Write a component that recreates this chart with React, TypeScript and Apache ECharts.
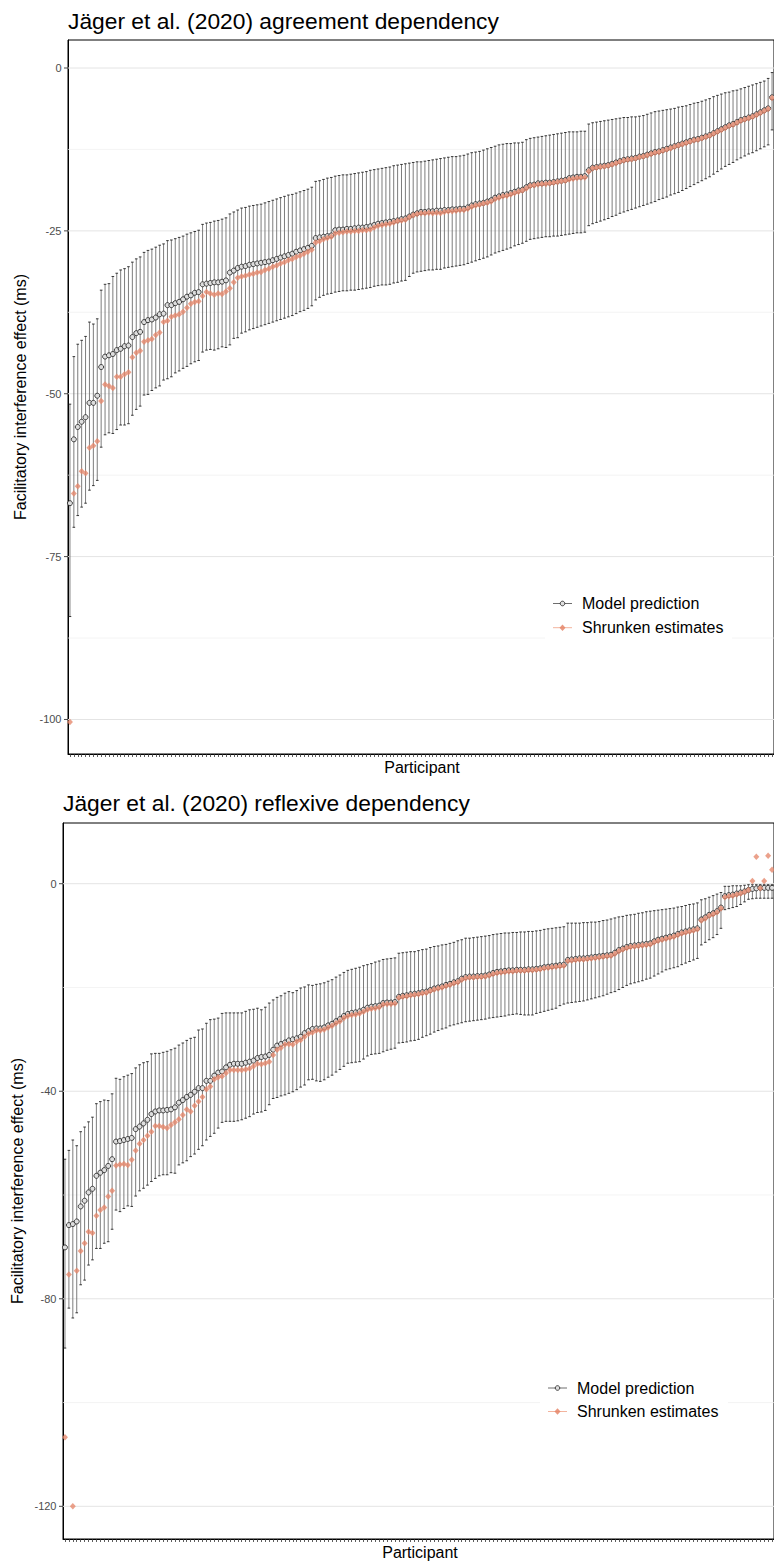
import React, { useEffect, useRef } from "react";
import * as echarts from "echarts";

const participants: string[] = Array.from({ length: 181 }, (_, i) => String(i + 1));

// Agreement dependency
const agrPred = [
  -66.8,-57.0,-55.1,-54.3,-53.6,-51.4,-51.4,-50.3,-45.9,-44.3,
  -44.1,-43.9,-43.3,-43.1,-42.7,-42.6,-41.3,-40.7,-40.5,-39.0,
  -38.7,-38.6,-38.3,-37.8,-37.7,-36.4,-36.4,-36.1,-35.9,-35.5,
  -35.1,-34.9,-34.5,-34.4,-33.2,-33.1,-33.0,-32.9,-32.9,-32.8,
  -32.6,-31.4,-31.1,-30.7,-30.5,-30.4,-30.2,-30.1,-30.0,-29.9,
  -29.8,-29.7,-29.5,-29.3,-29.1,-28.9,-28.7,-28.5,-28.2,-28.0,
  -27.8,-27.6,-27.3,-26.1,-26.0,-25.9,-25.8,-25.7,-24.9,-24.8,
  -24.8,-24.7,-24.7,-24.6,-24.5,-24.5,-24.4,-24.3,-24.1,-23.9,
  -23.8,-23.7,-23.6,-23.5,-23.4,-23.2,-23.1,-22.8,-22.5,-22.3,
  -22.1,-22.1,-22.0,-22.0,-21.9,-21.9,-21.8,-21.8,-21.7,-21.7,
  -21.6,-21.6,-21.4,-21.1,-20.9,-20.8,-20.7,-20.5,-20.3,-19.9,
  -19.7,-19.5,-19.4,-19.2,-19.0,-18.8,-18.7,-18.3,-18.0,-17.9,
  -17.7,-17.7,-17.6,-17.6,-17.5,-17.4,-17.3,-17.2,-16.9,-16.8,
  -16.7,-16.7,-16.6,-15.7,-15.3,-15.2,-15.1,-15.0,-14.9,-14.7,
  -14.5,-14.3,-14.1,-14.0,-13.9,-13.8,-13.6,-13.5,-13.3,-13.1,
  -12.9,-12.8,-12.6,-12.4,-12.2,-12.0,-11.8,-11.6,-11.4,-11.2,
  -11.0,-10.9,-10.7,-10.5,-10.3,-10.0,-9.7,-9.4,-9.1,-8.8,
  -8.6,-8.3,-8.0,-7.8,-7.6,-7.4,-7.1,-6.8,-6.5,-6.2,
  -4.5,
];
const agrShrunk = [
  -100.4,-65.3,-64.2,-61.9,-62.2,-58.3,-58.0,-57.3,-51.1,-48.6,
  -48.8,-49.1,-47.4,-47.4,-47.0,-46.7,-44.4,-43.7,-43.4,-42.0,
  -41.8,-41.6,-41.0,-40.6,-39.0,-38.8,-38.2,-38.0,-37.8,-37.4,
  -36.8,-36.2,-35.9,-35.8,-35.0,-34.4,-34.6,-34.8,-34.6,-34.7,
  -34.3,-33.8,-32.9,-32.2,-32.0,-31.9,-31.7,-31.6,-31.4,-31.3,
  -31.0,-30.8,-30.5,-30.3,-30.0,-29.8,-29.5,-29.3,-29.0,-28.8,
  -28.5,-28.2,-27.9,-26.8,-26.6,-26.3,-26.1,-25.9,-25.4,-25.3,
  -25.2,-25.1,-25.1,-25.0,-25.0,-24.9,-24.9,-24.8,-24.5,-24.2,
  -24.1,-24.0,-23.9,-23.7,-23.5,-23.4,-23.3,-22.9,-22.6,-22.4,
  -22.3,-22.3,-22.2,-22.3,-22.2,-22.3,-22.1,-22.0,-22.0,-21.9,
  -21.8,-21.8,-21.6,-21.3,-21.1,-21.0,-20.8,-20.7,-20.5,-20.1,
  -19.9,-19.7,-19.6,-19.4,-19.2,-19.0,-18.8,-18.5,-18.1,-18.0,
  -17.9,-17.8,-17.8,-17.7,-17.6,-17.5,-17.4,-17.3,-17.1,-17.0,
  -16.9,-16.8,-16.8,-15.9,-15.4,-15.3,-15.2,-15.1,-15.0,-14.8,
  -14.6,-14.4,-14.2,-14.1,-14.0,-13.9,-13.7,-13.6,-13.4,-13.2,
  -13.0,-12.9,-12.7,-12.5,-12.3,-12.1,-11.9,-11.7,-11.5,-11.3,
  -11.1,-11.0,-10.8,-10.6,-10.4,-10.1,-9.8,-9.5,-9.2,-8.9,
  -8.7,-8.4,-8.1,-7.9,-7.7,-7.5,-7.2,-6.9,-6.6,-6.3,
  -4.6,
];
const agrUpper = [
  -51.6,-44.3,-42.4,-41.8,-41.2,-39.0,-39.3,-38.5,-34.1,-33.2,
  -33.1,-32.0,-31.5,-31.0,-30.8,-30.5,-29.8,-29.3,-29.0,-28.3,
  -28.0,-27.8,-27.5,-27.2,-27.0,-26.5,-26.4,-26.2,-26.0,-25.8,
  -25.5,-25.3,-25.1,-24.9,-24.0,-23.8,-23.7,-23.5,-23.4,-23.2,
  -23.0,-22.4,-22.1,-21.8,-21.5,-21.4,-21.2,-21.1,-21.0,-20.9,
  -20.7,-20.5,-20.3,-20.1,-19.9,-19.7,-19.5,-19.4,-19.2,-19.0,
  -18.8,-18.6,-18.3,-17.4,-17.3,-17.1,-16.9,-16.8,-16.6,-16.5,
  -16.4,-16.4,-16.3,-16.2,-16.1,-16.0,-15.9,-15.7,-15.6,-15.5,
  -15.4,-15.3,-15.2,-15.0,-14.9,-14.8,-14.7,-14.6,-14.5,-14.4,
  -14.4,-14.3,-14.2,-14.1,-14.0,-13.9,-13.8,-13.7,-13.6,-13.6,
  -13.5,-13.4,-13.2,-13.0,-12.9,-12.8,-12.6,-12.4,-12.2,-12.0,
  -11.8,-11.7,-11.6,-11.6,-11.5,-11.5,-11.4,-11.0,-10.8,-10.7,
  -10.6,-10.5,-10.4,-10.3,-10.2,-10.1,-10.0,-9.9,-9.8,-9.8,
  -9.8,-9.7,-9.7,-8.6,-8.4,-8.3,-8.2,-8.1,-8.0,-7.9,
  -7.8,-7.7,-7.6,-7.6,-7.5,-7.5,-7.4,-7.3,-7.1,-6.9,
  -6.7,-6.6,-6.5,-6.4,-6.3,-6.2,-6.0,-5.9,-5.8,-5.6,
  -5.4,-5.3,-5.1,-4.9,-4.7,-4.4,-4.2,-4.0,-3.8,-3.7,
  -3.5,-3.4,-3.2,-3.0,-2.8,-2.6,-2.4,-2.2,-2.0,-1.6,
  -0.7,
];
const agrLower = [
  -84.2,-70.5,-68.7,-67.4,-66.8,-64.8,-64.1,-63.3,-58.2,-56.3,
  -56.0,-56.1,-55.5,-54.8,-54.8,-54.6,-53.3,-52.4,-51.9,-50.2,
  -50.1,-49.5,-49.1,-48.8,-47.9,-47.7,-47.4,-46.8,-46.5,-46.1,
  -45.8,-45.4,-45.1,-44.9,-43.6,-43.3,-43.2,-43.3,-43.1,-42.8,
  -42.9,-42.5,-41.5,-41.4,-40.7,-40.5,-40.2,-40.0,-39.8,-39.6,
  -39.4,-39.2,-39.0,-38.8,-38.6,-38.4,-38.2,-38.0,-37.7,-37.4,
  -37.2,-36.9,-36.5,-35.6,-35.2,-34.9,-34.7,-34.6,-34.4,-34.3,
  -34.2,-34.2,-34.1,-34.1,-34.0,-33.9,-33.8,-33.7,-33.5,-33.4,
  -33.3,-33.3,-33.2,-33.0,-32.9,-32.7,-32.6,-32.0,-31.5,-31.3,
  -31.2,-31.1,-31.0,-31.0,-30.9,-30.9,-30.7,-30.6,-30.5,-30.4,
  -30.3,-30.2,-30.0,-29.8,-29.6,-29.4,-29.2,-29.0,-28.7,-28.4,
  -28.2,-28.0,-27.8,-27.6,-27.3,-27.1,-26.9,-26.6,-26.3,-26.2,
  -26.1,-26.0,-25.9,-25.9,-25.8,-25.8,-25.7,-25.6,-25.5,-25.4,
  -25.3,-25.3,-25.2,-24.2,-23.9,-23.7,-23.5,-23.3,-23.1,-22.8,
  -22.6,-22.3,-22.1,-21.9,-21.7,-21.5,-21.3,-21.1,-20.9,-20.7,
  -20.5,-20.2,-20.0,-19.8,-19.5,-19.3,-19.1,-18.8,-18.5,-18.2,
  -17.9,-17.6,-17.3,-17.0,-16.7,-16.3,-15.9,-15.5,-15.1,-14.8,
  -14.5,-14.1,-13.8,-13.5,-13.2,-13.0,-12.7,-12.4,-12.1,-11.8,
  -9.5,
];

// Reflexive dependency
const refPred = [
  -70.1,-65.8,-65.6,-65.1,-62.2,-61.1,-59.5,-58.8,-56.3,-55.7,
  -55.2,-54.4,-53.1,-49.7,-49.6,-49.4,-49.2,-49.0,-47.3,-46.8,
  -46.2,-45.5,-44.4,-43.9,-43.7,-43.7,-43.6,-43.5,-43.1,-42.2,
  -41.7,-41.1,-40.7,-40.1,-39.4,-39.4,-38.0,-38.0,-37.0,-36.4,
  -36.2,-35.4,-34.9,-34.7,-34.7,-34.7,-34.5,-34.3,-34.1,-33.6,
  -33.4,-33.3,-33.0,-32.0,-31.2,-30.9,-30.6,-30.2,-30.0,-29.8,
  -29.5,-28.8,-28.4,-28.0,-27.9,-27.9,-27.7,-27.3,-27.0,-26.5,
  -26.1,-25.5,-25.1,-24.9,-24.8,-24.6,-24.3,-23.9,-23.7,-23.6,
  -23.5,-23.0,-22.9,-22.9,-22.8,-21.8,-21.6,-21.5,-21.3,-21.2,
  -21.1,-20.9,-20.8,-20.5,-20.2,-20.0,-19.8,-19.5,-19.3,-19.0,
  -18.8,-18.3,-18.0,-17.9,-17.9,-17.8,-17.8,-17.7,-17.5,-17.2,
  -17.0,-16.9,-16.8,-16.7,-16.7,-16.6,-16.6,-16.6,-16.5,-16.5,
  -16.4,-16.3,-16.1,-16.0,-15.9,-15.8,-15.7,-15.6,-14.7,-14.6,
  -14.5,-14.4,-14.4,-14.3,-14.2,-14.1,-14.0,-13.9,-13.8,-13.7,
  -13.3,-12.8,-12.5,-12.2,-12.0,-11.9,-11.8,-11.7,-11.6,-11.5,
  -11.1,-10.8,-10.6,-10.4,-10.2,-10.0,-9.7,-9.4,-9.2,-9.0,
  -8.8,-8.6,-6.9,-6.5,-6.0,-5.7,-5.3,-4.6,-2.4,-2.2,
  -2.1,-1.9,-1.7,-1.5,-1.2,-1.0,-0.9,-0.8,-0.8,-0.8,
  -0.8,
];
const refShrunk = [
  -106.7,-75.3,-120.0,-74.6,-70.8,-69.3,-67.1,-67.3,-64.0,-62.9,
  -62.4,-60.3,-59.2,-54.3,-54.1,-54.0,-54.2,-53.2,-51.4,-50.1,
  -49.4,-48.6,-47.8,-46.7,-46.7,-46.9,-47.1,-46.5,-46.0,-45.4,
  -44.6,-43.5,-43.9,-42.8,-42.0,-41.1,-39.6,-39.1,-37.7,-37.3,
  -37.1,-36.5,-35.9,-35.9,-35.9,-35.9,-35.8,-35.6,-35.2,-34.7,
  -34.8,-34.6,-34.3,-33.0,-32.0,-31.6,-31.0,-30.9,-31.0,-30.4,
  -30.1,-29.5,-28.9,-28.7,-28.3,-28.3,-28.1,-27.7,-27.4,-26.9,
  -26.5,-25.9,-25.5,-25.3,-25.2,-25.0,-24.7,-24.3,-24.1,-24.0,
  -23.8,-23.3,-23.2,-23.2,-23.1,-22.0,-21.8,-21.7,-21.5,-21.4,
  -21.3,-21.1,-21.0,-20.7,-20.4,-20.2,-20.0,-19.7,-19.5,-19.2,
  -19.0,-18.5,-18.2,-18.1,-18.1,-18.0,-18.0,-17.9,-17.7,-17.4,
  -17.2,-17.1,-17.0,-16.9,-16.9,-16.8,-16.8,-16.8,-16.7,-16.7,
  -16.6,-16.5,-16.3,-16.2,-16.1,-16.0,-15.9,-15.8,-14.9,-14.8,
  -14.7,-14.6,-14.6,-14.5,-14.4,-14.3,-14.2,-14.1,-14.0,-13.9,
  -13.5,-13.0,-12.7,-12.4,-12.2,-12.1,-12.0,-11.9,-11.8,-11.7,
  -11.3,-11.0,-10.8,-10.6,-10.4,-10.2,-9.9,-9.6,-9.4,-9.2,
  -9.0,-8.8,-7.1,-6.7,-6.2,-5.9,-5.5,-4.8,-2.6,-2.4,
  -2.3,-2.1,-1.9,-1.6,-1.2,0.5,5.2,-0.9,0.5,5.4,
  2.7,
];
const refUpper = [
  -53.1,-51.4,-49.4,-50.5,-47.8,-46.9,-45.9,-45.0,-42.4,-42.0,
  -41.7,-41.8,-40.5,-37.5,-37.7,-37.2,-36.9,-36.6,-35.5,-34.9,
  -34.5,-34.3,-32.8,-32.7,-32.7,-32.5,-32.3,-32.0,-31.7,-31.1,
  -30.7,-30.2,-29.8,-29.6,-28.2,-28.0,-26.9,-26.2,-26.1,-25.9,
  -25.0,-24.9,-24.9,-24.9,-24.9,-24.9,-24.6,-24.3,-24.2,-24.0,
  -24.3,-23.8,-23.0,-22.4,-21.9,-21.6,-21.1,-20.8,-21.0,-20.6,
  -20.1,-19.9,-19.5,-19.6,-19.4,-19.3,-19.1,-18.8,-18.5,-18.0,
  -17.6,-17.1,-16.7,-16.5,-16.3,-16.1,-15.8,-15.6,-15.4,-15.1,
  -14.9,-14.6,-14.5,-14.4,-14.3,-13.4,-13.3,-13.2,-13.1,-13.1,
  -12.9,-12.7,-12.6,-12.3,-12.1,-12.0,-11.8,-11.7,-11.5,-11.3,
  -11.0,-10.8,-10.5,-10.5,-10.4,-10.3,-10.2,-10.1,-10.0,-9.8,
  -9.7,-9.6,-9.5,-9.5,-9.4,-9.4,-9.3,-9.3,-9.2,-9.2,
  -9.1,-9.0,-8.8,-8.7,-8.6,-8.5,-8.4,-8.3,-7.6,-7.6,
  -7.6,-7.6,-7.5,-7.5,-7.4,-7.4,-7.3,-7.1,-7.0,-6.8,
  -6.6,-6.4,-6.3,-6.1,-6.0,-5.9,-5.7,-5.6,-5.4,-5.3,
  -5.2,-5.1,-5.0,-4.9,-4.8,-4.7,-4.5,-4.4,-4.2,-4.0,
  -3.9,-3.7,-3.1,-2.9,-2.6,-2.3,-2.0,-1.7,-0.5,-0.5,
  -0.4,-0.4,-0.4,-0.3,-0.2,-0.2,-0.2,-0.2,-0.2,-0.2,
  -0.2,
];
const refLower = [
  -89.5,-81.8,-83.7,-82.7,-77.3,-76.4,-73.5,-72.5,-70.3,-70.3,
  -69.3,-69.0,-66.6,-62.9,-63.2,-62.6,-62.1,-62.2,-60.2,-59.2,
  -58.7,-58.1,-57.4,-56.8,-56.3,-56.1,-56.1,-55.7,-55.8,-54.2,
  -53.8,-53.4,-52.6,-52.1,-51.2,-50.5,-49.4,-48.7,-48.1,-47.1,
  -46.0,-45.8,-45.8,-45.8,-45.7,-45.5,-45.2,-44.9,-44.4,-44.1,
  -44.0,-43.7,-42.6,-41.4,-41.2,-40.9,-40.7,-40.4,-40.1,-39.7,
  -39.2,-38.8,-37.8,-37.7,-38.0,-38.1,-37.8,-37.3,-36.9,-36.3,
  -35.8,-35.2,-34.6,-34.5,-34.4,-34.3,-33.8,-33.2,-32.9,-32.8,
  -32.7,-32.4,-32.1,-31.9,-31.7,-30.7,-30.6,-30.5,-30.3,-30.2,
  -30.0,-29.6,-29.3,-29.0,-28.6,-28.3,-28.0,-27.8,-27.4,-27.2,
  -27.0,-26.8,-26.6,-26.5,-26.4,-26.3,-26.2,-26.1,-25.9,-25.8,
  -25.7,-25.6,-25.5,-25.3,-25.2,-25.1,-25.2,-25.3,-25.3,-25.3,
  -25.0,-24.8,-24.6,-24.4,-24.2,-24.0,-23.5,-23.2,-23.0,-22.9,
  -22.8,-22.7,-22.6,-22.4,-22.2,-22.0,-21.8,-21.6,-21.3,-21.0,
  -20.8,-20.4,-20.0,-19.6,-19.3,-19.1,-18.9,-18.7,-18.4,-18.2,
  -17.8,-17.4,-17.0,-16.6,-16.4,-16.2,-16.0,-15.6,-15.3,-15.0,
  -14.7,-14.4,-11.8,-11.3,-10.8,-10.4,-9.8,-8.6,-5.0,-4.8,
  -4.6,-4.4,-4.0,-3.5,-3.0,-2.9,-2.8,-2.8,-2.8,-2.8,
  -2.8,
];

const agrMajorTicks = [0, -25, -50, -75, -100];
const agrMinorTicks = [-12.5, -37.5, -62.5, -87.5];
const refMajorTicks = [0, -40, -80, -120];
const refMinorTicks = [-20, -60, -100];

const titles = ["Jäger et al. (2020) agreement dependency", "Jäger et al. (2020) reflexive dependency"];
const legendNames = ["Model prediction", "Shrunken estimates"];
const xTitle = "Participant";
const yTitle = "Facilitatory interference effect (ms)";

const FONT = '"Liberation Sans", Arial, Helvetica, sans-serif';
const SALMON = "#e5866a";

const panels = [
  {
    pred: agrPred, shrunk: agrShrunk, upper: agrUpper, lower: agrLower,
    major: agrMajorTicks, minor: agrMinorTicks, yMin: -105.3, yMax: 4.3,
    grid: { left: 68, top: 40, width: 707, height: 714 },
    titleY: 20.6, xTitleX: 422, xTitleY: 767.5, yTitleX: 20, yTitleY: 397,
    legend: { x: 545, y: 589, w: 187, h: 53, row1: 603.5, row2: 627.7, iconX: 553, textX: 582 },
  },
  {
    pred: refPred, shrunk: refShrunk, upper: refUpper, lower: refLower,
    major: refMajorTicks, minor: refMinorTicks, yMin: -126.3, yMax: 11.7,
    grid: { left: 63, top: 823, width: 712, height: 716 },
    titleY: 803.3, xTitleX: 420, xTitleY: 1552.5, yTitleX: 17, yTitleY: 1181,
    legend: { x: 540, y: 1373, w: 188, h: 53, row1: 1388, row2: 1411.5, iconX: 548, textX: 577 },
  },
];

function gridRender(params: any, api: any) {
  const v = api.value(1);
  const major = api.value(2) === 1;
  const cs = params.coordSys;
  const y = api.coord([0, v])[1];
  const children: any[] = [
    {
      type: "line",
      shape: { x1: cs.x, y1: y, x2: cs.x + cs.width, y2: y },
      style: { stroke: major ? "#e4e4e4" : "#efefef", lineWidth: major ? 1 : 0.7 },
    },
  ];
  if (major) {
    children.push({
      type: "line",
      shape: { x1: cs.x - 4, y1: y, x2: cs.x, y2: y },
      style: { stroke: "#333", lineWidth: 0.9 },
    });
    children.push({
      type: "text",
      style: {
        text: String(v),
        x: cs.x - 6.5,
        y: y,
        align: "right",
        textAlign: "right",
        verticalAlign: "middle",
        textVerticalAlign: "middle",
        fill: "#4d4d4d",
        font: `11px ${FONT}`,
      },
    });
  }
  return { type: "group", children };
}

function errRender(params: any, api: any) {
  const i = api.value(0);
  const lo = api.coord([i, api.value(1)]);
  const hi = api.coord([i, api.value(2)]);
  const x = lo[0];
  const w = 1.3;
  const cap = { stroke: "#222", lineWidth: 0.9 };
  return {
    type: "group",
    children: [
      { type: "line", shape: { x1: x, y1: hi[1], x2: x, y2: lo[1] }, style: { stroke: "#666", lineWidth: 0.85 } },
      { type: "line", shape: { x1: x - w, y1: hi[1], x2: x + w, y2: hi[1] }, style: cap },
      { type: "line", shape: { x1: x - w, y1: lo[1], x2: x + w, y2: lo[1] }, style: cap },
    ],
  };
}

function buildOption() {
  const grid: any[] = [];
  const xAxis: any[] = [];
  const yAxis: any[] = [];
  const series: any[] = [];
  const graphic: any[] = [];

  panels.forEach((p, k) => {
    grid.push({ ...p.grid, show: true, borderColor: "#000", borderWidth: 1, backgroundColor: "transparent" });
    xAxis.push({
      type: "category",
      gridIndex: k,
      data: participants,
      boundaryGap: true,
      position: "bottom",
      axisLine: { show: true, onZero: false, lineStyle: { color: "#000", width: 1 } },
      axisTick: { show: true, alignWithLabel: true, interval: 0, length: 3, lineStyle: { color: "#333", width: 0.8 } },
      axisLabel: { show: false },
      splitLine: { show: false },
    });
    yAxis.push({
      type: "value",
      gridIndex: k,
      min: p.yMin,
      max: p.yMax,
      axisLine: { show: true, onZero: false, lineStyle: { color: "#000", width: 1 } },
      axisTick: { show: false },
      axisLabel: { show: false },
      splitLine: { show: false },
    });

    const gridData = [
      ...p.major.map((v) => [0, v, 1]),
      ...p.minor.map((v) => [0, v, 0]),
    ];
    series.push({
      type: "custom",
      xAxisIndex: k,
      yAxisIndex: k,
      data: gridData,
      renderItem: gridRender,
      clip: false,
      silent: true,
      z: 1,
    });
    series.push({
      type: "custom",
      name: "interval",
      xAxisIndex: k,
      yAxisIndex: k,
      data: participants.map((_, i) => [i, p.lower[i], p.upper[i]]),
      encode: { x: 0, y: [1, 2] },
      renderItem: errRender,
      silent: true,
      z: 2,
    });
    series.push({
      type: "scatter",
      name: legendNames[0],
      xAxisIndex: k,
      yAxisIndex: k,
      data: participants.map((_, i) => [i, p.pred[i]]),
      symbol: "circle",
      symbolSize: 5,
      itemStyle: { color: "#dedede", borderColor: "#1a1a1a", borderWidth: 0.8, opacity: 1 },
      silent: true,
      z: 3,
    });
    series.push({
      type: "scatter",
      name: legendNames[1],
      xAxisIndex: k,
      yAxisIndex: k,
      data: participants.map((_, i) => [i, p.shrunk[i]]),
      symbol: "diamond",
      symbolSize: [6, 6.5],
      itemStyle: { color: SALMON, opacity: 0.78 },
      silent: true,
      z: 4,
    });

    // titles
    graphic.push({
      type: "text",
      x: p.grid.left,
      y: p.titleY,
      style: { text: titles[k], font: `22.8px ${FONT}`, fill: "#000", align: "left", textAlign: "left", verticalAlign: "middle", textVerticalAlign: "middle" },
      z: 10,
    });
    graphic.push({
      type: "text",
      x: p.xTitleX,
      y: p.xTitleY,
      style: { text: xTitle, font: `16px ${FONT}`, fill: "#000", align: "center", textAlign: "center", verticalAlign: "middle", textVerticalAlign: "middle" },
      z: 10,
    });
    graphic.push({
      type: "text",
      x: p.yTitleX,
      y: p.yTitleY,
      rotation: Math.PI / 2,
      style: { text: yTitle, font: `16px ${FONT}`, fill: "#000", align: "center", textAlign: "center", verticalAlign: "middle", textVerticalAlign: "middle" },
      z: 10,
    });

    // legend
    const L = p.legend;
    const cx = L.iconX + 9.5;
    graphic.push({
      type: "group",
      z: 20,
      children: [
        { type: "rect", shape: { x: L.x, y: L.y, width: L.w, height: L.h }, style: { fill: "#fff" }, z: 20 },
        { type: "line", shape: { x1: L.iconX, y1: L.row1, x2: L.iconX + 19, y2: L.row1 }, style: { stroke: "#6e6e6e", lineWidth: 1 }, z: 21 },
        { type: "circle", shape: { cx: cx, cy: L.row1, r: 2.3 }, style: { fill: "#dedede", stroke: "#1a1a1a", lineWidth: 0.8 }, z: 22 },
        { type: "line", shape: { x1: L.iconX, y1: L.row2, x2: L.iconX + 19, y2: L.row2 }, style: { stroke: "#f3b49e", lineWidth: 1 }, z: 21 },
        {
          type: "polygon",
          shape: { points: [[cx, L.row2 - 3.2], [cx + 3, L.row2], [cx, L.row2 + 3.2], [cx - 3, L.row2]] },
          style: { fill: SALMON, opacity: 0.85 },
          z: 22,
        },
        { type: "text", x: L.textX, y: L.row1, style: { text: legendNames[0], font: `16px ${FONT}`, fill: "#000", align: "left", textAlign: "left", verticalAlign: "middle", textVerticalAlign: "middle" }, z: 22 },
        { type: "text", x: L.textX, y: L.row2, style: { text: legendNames[1], font: `16px ${FONT}`, fill: "#000", align: "left", textAlign: "left", verticalAlign: "middle", textVerticalAlign: "middle" }, z: 22 },
      ],
    });
  });

  return {
    animation: false,
    backgroundColor: "#fff",
    grid,
    xAxis,
    yAxis,
    series,
    graphic,
  };
}

export default function App() {
  const ref = useRef<HTMLDivElement>(null);
  useEffect(() => {
    const el = ref.current;
    if (!el) return;
    const chart = echarts.init(el, null, { renderer: "svg" });
    chart.setOption(buildOption() as any);
    return () => {
      chart.dispose();
    };
  }, []);
  return (
    <div
      ref={ref}
      style={{ position: "absolute", left: 0, top: 0, width: 774, height: 1562, background: "#fff" }}
    />
  );
}
